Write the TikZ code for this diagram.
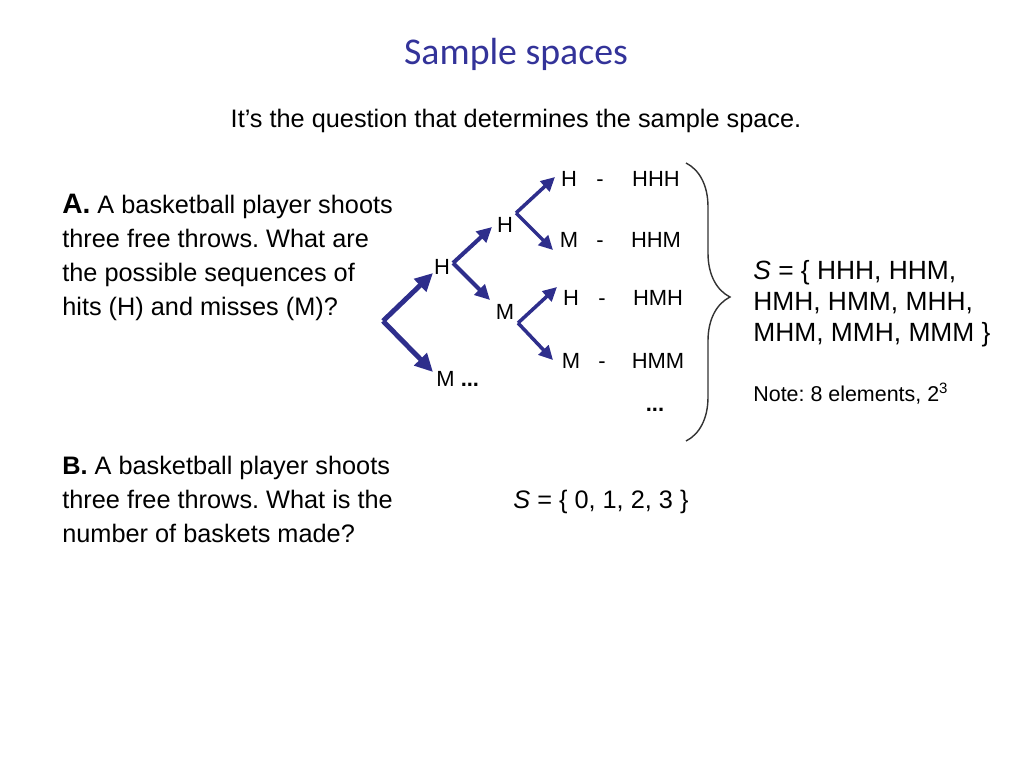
\documentclass[tikz,border=0pt]{standalone}
\usepackage{fontspec}
\setmainfont{Liberation Sans}
\newfontfamily\titlefont{Carlito}
\usetikzlibrary{arrows.meta,positioning,decorations.pathreplacing}
\frenchspacing
\definecolor{navy}{HTML}{333399}
\definecolor{arrowblue}{HTML}{2E2E8C}
\definecolor{bracegray}{HTML}{333333}
\tikzset{
  ttl/.style={font=\titlefont\fontsize{21.5}{26}\selectfont, text=navy, inner sep=0pt},
  txt/.style={font=\fontsize{14.4}{19.3}\selectfont, align=left, inner sep=0pt},
  setx/.style={font=\fontsize{15}{17.6}\selectfont, align=left, inner sep=0pt},
  note/.style={font=\fontsize{12.2}{15}\selectfont, inner sep=0pt},
  lab/.style={font=\fontsize{12.5}{15}\selectfont, inner sep=0pt},
  br/.style={draw=arrowblue, line join=miter},
  brA/.style={br, line width=2.8pt, -{Triangle[length=3.6mm,width=3.4mm,fill=arrowblue]}},
  brB/.style={br, line width=2.3pt, -{Triangle[length=3.0mm,width=2.9mm,fill=arrowblue]}},
  brC/.style={br, line width=2.0pt, -{Triangle[length=2.8mm,width=2.7mm,fill=arrowblue]}},
  brc/.style={decorate, decoration={brace, amplitude=0.88cm, aspect=0.482}, line width=0.8pt, draw=bracegray},
}
\begin{document}
\begin{tikzpicture}[x=0.02cm, y=-0.02cm]
\useasboundingbox (0,0) rectangle (1024,768);
% headings
\node[ttl, anchor=base] (title) at (516,64) {Sample spaces};
\node[txt, anchor=base] (sub) at (516,127) {It’s the question that determines the sample space.};

% question A and B (base = last line)
\node[txt, anchor=base west] (qa) at (62,315) {{\bfseries\fontsize{16}{19.3}\selectfont A.} A basketball player shoots\\three free throws. What are\\the possible sequences of\\hits (H) and misses (M)?};
\node[txt, anchor=base west] (qb) at (62,542) {\textbf{B.} A basketball player shoots\\three free throws. What is the\\number of baskets made?};
\node[txt, anchor=base west] (sb) at (513,508) {\textit{S} = \{ 0, 1, 2, 3 \}};

% tree
\coordinate (v1) at (383,321);
\coordinate (t1h) at (433,273);
\coordinate (t1m) at (433,372);
\node[lab] (h1) at (442,267) {H};
\node[lab, anchor=west] (m1) at (436,379) {M \textbf{...}};
\draw[brA] (v1) -- (t1h);
\draw[brA] (v1) -- (t1m);

\coordinate (v2) at (453,263);
\coordinate (t2h) at (492,227);
\coordinate (t2m) at (490,300);
\node[lab] (h2) at (505,225) {H};
\node[lab] (m2) at (505,312) {M};
\draw[brB] (v2) -- (t2h);
\draw[brB] (v2) -- (t2m);

\coordinate (v3) at (516,213);
\coordinate (v4) at (518,323);
\coordinate (t3h) at (555,177);
\coordinate (t3m) at (553,250);
\coordinate (t4h) at (557,287);
\coordinate (t4m) at (553,360);
\draw[brC] (v3) -- (t3h);
\draw[brC] (v3) -- (t3m);
\draw[brC] (v4) -- (t4h);
\draw[brC] (v4) -- (t4m);

\foreach \x/\y/\a/\w [count=\i] in {569/186/H/HHH, 569/247/M/HHM, 571/305/H/HMH, 571/368/M/HMM}{
  \node[lab, anchor=base] (l\i) at (\x,\y) {\a};
  \node[lab, anchor=base] (d\i) at (\x+31,\y) {-};
  \node[lab, anchor=base] (s\i) at (\x+87,\y) {\w};
}
\node[lab, font=\fontsize{12.5}{15}\selectfont\bfseries] (dots) at (655,410) {...};

% brace and sample space
\coordinate (bt) at (686,163);
\coordinate (bb) at (686,441);
\draw[brc] (bt) -- (bb);
\node[setx, anchor=base west] (sa) at (753,341) {\textit{S} = \{ HHH, HHM,\\HMH, HMM, MHH,\\MHM, MMH, MMM \}};
\node[note, anchor=base west] (cnt) at (753,401) {Note: 8 elements, 2\textsuperscript{3}};
\end{tikzpicture}
\end{document}
